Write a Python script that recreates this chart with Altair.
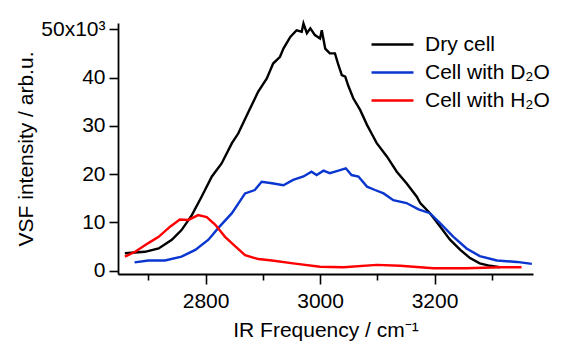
import altair as alt
import pandas as pd

dry_x = [2659, 2694, 2718, 2741, 2758, 2776, 2793, 2811, 2828, 2846, 2857, 2875, 2892, 2907,
         2918, 2930, 2936, 2948, 2959, 2968, 2971, 2977, 2983, 2991, 3000, 3003, 3009, 3017,
         3026, 3032, 3038, 3044, 3049, 3058, 3070, 3082, 3090, 3099, 3117, 3134, 3151, 3169,
         3175, 3192, 3210, 3227, 3245, 3262, 3279, 3297, 3314]
dry_y = [3.6, 3.9, 4.6, 6.4, 8.4, 11.5, 15.3, 19.5, 22.2, 26.4, 28.4, 32.9, 37.1, 39.8,
         42.9, 44.3, 46.0, 48.4, 49.8, 49.5, 51.2, 49.2, 50.2, 48.8, 48.1, 49.8, 46.0, 45.0,
         45.0, 42.6, 40.5, 40.2, 38.4, 35.7, 33.3, 30.2, 28.4, 26.4, 23.6, 20.5, 18.1, 15.3,
         14.0, 11.9, 9.1, 6.4, 4.3, 2.6, 1.5, 1.0, 0.7]

d2o_x = [2676, 2700, 2729, 2758, 2782, 2805, 2822, 2846, 2869, 2886, 2898, 2916, 2936, 2953,
         2971, 2985, 2994, 3006, 3017, 3032, 3045, 3055, 3067, 3082, 3096, 3111, 3128, 3151,
         3172, 3192, 3210, 3233, 3256, 3279, 3309, 3344, 3370]
d2o_y = [1.7, 2.1, 2.1, 2.9, 4.3, 6.4, 8.8, 11.9, 16.0, 16.7, 18.4, 18.1, 17.7, 18.8,
         19.5, 20.5, 19.8, 20.7, 20.2, 20.7, 21.2, 19.8, 19.5, 17.4, 16.7, 16.0, 14.6, 14.0,
         12.7, 11.9, 9.8, 7.0, 4.6, 3.0, 2.1, 1.8, 1.4]

h2o_x = [2659, 2677, 2700, 2718, 2738, 2755, 2770, 2787, 2802, 2817, 2834, 2852, 2869, 2892,
         2916, 2953, 3000, 3041, 3099, 3140, 3198, 3256, 3314, 3352]
h2o_y = [2.9, 3.9, 5.7, 7.0, 9.1, 10.6, 10.5, 11.5, 11.1, 9.5, 7.0, 5.0, 3.2, 2.4,
         2.1, 1.5, 0.8, 0.7, 1.2, 1.0, 0.5, 0.5, 0.7, 0.7]

series = ["Dry cell", "Cell with D\u2082O", "Cell with H\u2082O"]
colors = ["#000000", "#0a36d0", "#ff0000"]
x_ticks = [2700, 2800, 2900, 3000, 3100, 3200, 3300]
y_ticks = [0, 10, 20, 30, 40, 50]

rows = []
for name, xs, ys in zip(series, [dry_x, d2o_x, h2o_x], [dry_y, d2o_y, h2o_y]):
    for i, (a, b) in enumerate(zip(xs, ys)):
        rows.append({"series": name, "freq": a, "val": b, "i": i})
df = pd.DataFrame(rows)

FONT = "Liberation Sans"
FS = 21

chart = alt.Chart(df).mark_line(strokeWidth=2.4).encode(
    x=alt.X("freq:Q",
            scale=alt.Scale(domain=[2647, 3372], nice=False, zero=False),
            axis=alt.Axis(values=x_ticks, format="d",
                          labelExpr="datum.value % 200 == 0 ? datum.label : ''",
                          tickSize={"condition": {"test": "datum.value % 200 == 0", "value": 10}, "value": 6},
                          title="IR Frequency / cm\u207b\u00b9",
                          labelPadding=6, titlePadding=8)),
    y=alt.Y("val:Q",
            scale=alt.Scale(domain=[-0.7, 51.3], nice=False, zero=False),
            axis=alt.Axis(values=y_ticks,
                          labelExpr="datum.value == 50 ? '50x10\u00b3' : datum.label",
                          tickSize=9, labelPadding=4,
                          title="VSF intensity / arb.u.", titlePadding=4)),
    color=alt.Color("series:N",
                    scale=alt.Scale(domain=series, range=colors),
                    legend=alt.Legend(title=None, orient="none", legendX=252, legendY=11,
                                      symbolType="stroke", symbolSize=1764, symbolStrokeWidth=2.6,
                                      clipHeight=21, rowPadding=6, labelOffset=10,
                                      labelFontSize=FS, labelFont=FONT, labelColor="black")),
    order="i:Q",
).properties(
    width=415, height=251,
    autosize=alt.AutoSizeParams(type="none"),
    padding={"left": 110, "top": 15, "right": 40, "bottom": 68},
).configure_view(stroke=None).configure_axis(
    grid=False, domainColor="black", domainWidth=1.8, tickColor="black", tickWidth=1.6,
    labelFont=FONT, labelFontSize=FS, labelColor="black",
    titleFont=FONT, titleFontSize=FS, titleFontWeight="normal", titleColor="black",
)

chart.save("out.html", embed_options={"renderer": "svg", "actions": False})
